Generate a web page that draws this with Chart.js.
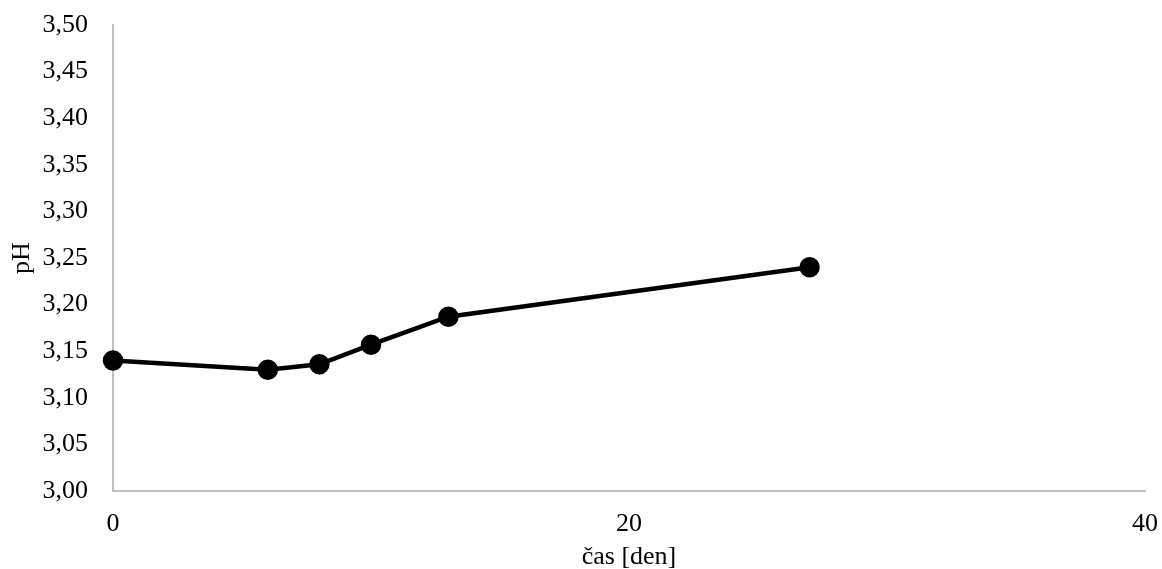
<!DOCTYPE html>
<html>
<head>
<meta charset="utf-8">
<script src="https://cdn.jsdelivr.net/npm/chart.js@4"></script>
<style>
  html, body { margin: 0; padding: 0; background: #fff; }
  #wrap { width: 1162px; height: 569px; }
</style>
</head>
<body>
<div id="wrap"><canvas id="phChart"></canvas></div>
<script>
// measured values
const days = [0, 6, 8, 10, 13, 27];
const phValues = [3.14, 3.13, 3.136, 3.157, 3.187, 3.24];

const xTitle = 'čas [den]';
const yTitle = 'pH';

const serif = '"Liberation Serif", "Times New Roman", serif';
Chart.defaults.font.family = serif;
Chart.defaults.color = '#000';

const points = days.map((d, i) => ({ x: d, y: phValues[i] }));

const ctx = document.getElementById('phChart').getContext('2d');
new Chart(ctx, {
    type: 'line',
    data: {
        datasets: [{
            data: points,
            borderColor: '#000',
            backgroundColor: '#000',
            borderWidth: 4.5,
            pointRadius: 8,
            pointHoverRadius: 8,
            tension: 0,
            clip: false
        }]
    },
    options: {
        responsive: true,
        maintainAspectRatio: false,
        animation: false,
        layout: {
            autoPadding: false,
            padding: { top: 0, right: 0, left: 7, bottom: 0 }
        },
        plugins: {
            legend: { display: false },
            tooltip: { enabled: false }
        },
        scales: {
            x: {
                type: 'linear',
                min: 0,
                max: 40,
                afterFit: (scale) => { scale.height = 78; },
                ticks: {
                    stepSize: 20,
                    padding: 4,
                    font: { size: 26, lineHeight: 1.66 }
                },
                grid: { display: false },
                border: { color: '#c0c0c0', width: 2 },
                title: {
                    display: true,
                    text: xTitle,
                    font: { size: 26 },
                    padding: { top: 0, bottom: -4 }
                }
            },
            y: {
                min: 3.0,
                max: 3.5,
                afterFit: (scale) => { scale.width = 106; },
                ticks: {
                    stepSize: 0.05,
                    padding: 17,
                    font: { size: 26, lineHeight: 0.62 },
                    callback: (v) => v.toFixed(2).replace('.', ',')
                },
                grid: { display: false },
                border: { color: '#c0c0c0', width: 2 },
                title: {
                    display: true,
                    text: yTitle,
                    font: { size: 26 },
                    padding: { top: 0, bottom: 0 }
                }
            }
        }
    }
});
</script>
</body>
</html>
